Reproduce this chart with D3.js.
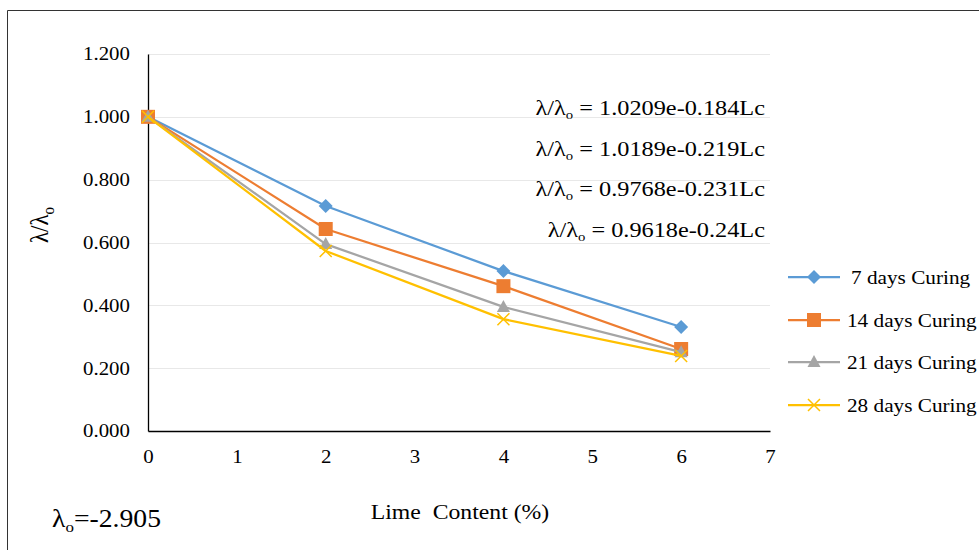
<!DOCTYPE html>
<html><head><meta charset="utf-8">
<script src="https://cdn.jsdelivr.net/npm/d3@7"></script>
<style>body{margin:0;background:#fff}svg{display:block}</style>
</head><body><svg id="c" width="979" height="550" font-family="'Liberation Serif', 'Times New Roman', serif"></svg>
<script>
const limeContent = [0, 2, 4, 6];
const seriesNames = ["7 days Curing", "14 days Curing", "21 days Curing", "28 days Curing"];
const values7 = [1.000, 0.716, 0.509, 0.331];
const values14 = [1.000, 0.643, 0.461, 0.261];
const values21 = [1.000, 0.595, 0.395, 0.251];
const values28 = [1.000, 0.573, 0.356, 0.239];
const equations = ["1.0209e-0.184Lc", "1.0189e-0.219Lc", "0.9768e-0.231Lc", "0.9618e-0.24Lc"];
const xTicks = [0, 1, 2, 3, 4, 5, 6, 7];
const yTicks = [0, 0.2, 0.4, 0.6, 0.8, 1.0, 1.2];
const colors = ["#5B9BD5", "#ED7D31", "#A5A5A5", "#FFC000"];
const markers = ["diamond", "square", "triangle", "x"];
const FONT = "'Liberation Serif', 'Times New Roman', serif";
const SX = 1.13; // horizontal stretch of the original picture

const series = [values7, values14, values21, values28].map((v, i) => ({name: seriesNames[i], values: v, color: colors[i], marker: markers[i]}));

const svg = d3.select("#c");
svg.append("path").attr("d", "M7.5,550 V10.5 H979").attr("fill", "none").attr("stroke", "#333").attr("stroke-width", 1);

const x = d3.scaleLinear().domain([0, 7]).range([148, 770]);
const y = d3.scaleLinear().domain([0, 1.2]).range([431, 54]);

svg.append("g").selectAll("line").data(yTicks.filter(d => d > 0)).join("line")
  .attr("x1", x(0)).attr("x2", x(7)).attr("y1", d => Math.round(y(d)) + 0.5).attr("y2", d => Math.round(y(d)) + 0.5)
  .attr("stroke", "#e8e8e8").attr("stroke-width", 1);

function stretch(sel) {
  sel.each(function() {
    const t = d3.select(this);
    const tx = +t.attr("x") || 0, ty = +t.attr("y") || 0;
    t.attr("x", 0).attr("y", 0).attr("transform", `translate(${tx},${ty}) scale(${SX},1)`);
  });
}

const yAxis = d3.axisLeft(y).tickValues(yTicks).tickFormat(d3.format(".3f")).tickSize(0).tickPadding(18);
const gy = svg.append("g").attr("transform", `translate(${x(0)},0)`).call(yAxis);
gy.attr("font-family", FONT).attr("font-size", 18.5);
gy.select(".domain").attr("stroke", "#000").attr("stroke-width", 1.3);
gy.selectAll("text").attr("fill", "#000").call(stretch);

const xAxis = d3.axisBottom(x).tickValues(xTicks).tickFormat(d3.format("d")).tickSize(0).tickPadding(19);
const gx = svg.append("g").attr("transform", `translate(0,${y(0)})`).call(xAxis);
gx.attr("font-family", FONT).attr("font-size", 18.5);
gx.select(".domain").attr("stroke", "#000").attr("stroke-width", 1.3);
gx.selectAll("text").attr("fill", "#000").call(stretch);

const line = d3.line().x((d, i) => x(limeContent[i])).y(d => y(d));
function drawMarker(g, type, color, cx, cy) {
  if (type === "diamond") {
    g.append("path").attr("d", `M${cx},${cy - 7}L${cx + 7},${cy}L${cx},${cy + 7}L${cx - 7},${cy}Z`).attr("fill", color);
  } else if (type === "square") {
    g.append("rect").attr("x", cx - 7).attr("y", cy - 7).attr("width", 14).attr("height", 14).attr("fill", color);
  } else if (type === "triangle") {
    g.append("path").attr("d", `M${cx},${cy - 7}L${cx + 6.5},${cy + 5}L${cx - 6.5},${cy + 5}Z`).attr("fill", color);
  } else if (type === "x") {
    g.append("path").attr("d", `M${cx - 6},${cy - 6}L${cx + 6},${cy + 6}M${cx + 6},${cy - 6}L${cx - 6},${cy + 6}`).attr("stroke", color).attr("stroke-width", 1.5);
  }
}
series.forEach(s => {
  const g = svg.append("g");
  g.append("path").datum(s.values).attr("d", line).attr("fill", "none").attr("stroke", s.color).attr("stroke-width", 2.25).attr("stroke-linejoin", "round");
  s.values.forEach((v, i) => drawMarker(g, s.marker, s.color, x(limeContent[i]), y(v)));
});

const eqY = [108, 149, 189, 230];
equations.forEach((e, i) => {
  const t = svg.append("text").attr("x", 765).attr("y", eqY[i] + 7).attr("text-anchor", "end").attr("font-size", 21.5).attr("font-family", FONT);
  t.append("tspan").text("λ/λ");
  t.append("tspan").attr("font-size", 13).attr("dy", 4).text("o");
  t.append("tspan").attr("dy", -4).text(" = " + e);
  stretch(t);
});

const legY = [277, 320, 362, 405];
series.forEach((s, i) => {
  const g = svg.append("g");
  g.append("line").attr("x1", 788).attr("x2", 840).attr("y1", legY[i]).attr("y2", legY[i]).attr("stroke", s.color).attr("stroke-width", 2.25);
  drawMarker(g, s.marker, s.color, 814, legY[i]);
  g.append("text").attr("x", i === 0 ? 851 : 847).attr("y", legY[i] + 6.5).attr("font-size", 18.8).attr("font-family", FONT).text(s.name).call(stretch);
});

const yt = svg.append("text").attr("transform", "translate(48,225) rotate(-90) scale(1,1.1)").attr("text-anchor", "middle").attr("font-size", 23).attr("font-family", FONT);
yt.append("tspan").text("λ/λ");
yt.append("tspan").attr("font-size", 15).attr("dy", 5).text("o");

svg.append("text").attr("x", 460).attr("y", 519).attr("text-anchor", "middle").attr("font-size", 21).attr("font-family", FONT).style("white-space", "pre").text("Lime  Content (%)").call(stretch);

const lt = svg.append("text").attr("x", 52).attr("y", 527).attr("font-size", 24.5).attr("font-family", FONT);
lt.append("tspan").text("λ");
lt.append("tspan").attr("font-size", 15).attr("dy", 5).text("o");
lt.append("tspan").attr("dy", -5).text("=-2.905");
stretch(lt);
</script></body></html>
